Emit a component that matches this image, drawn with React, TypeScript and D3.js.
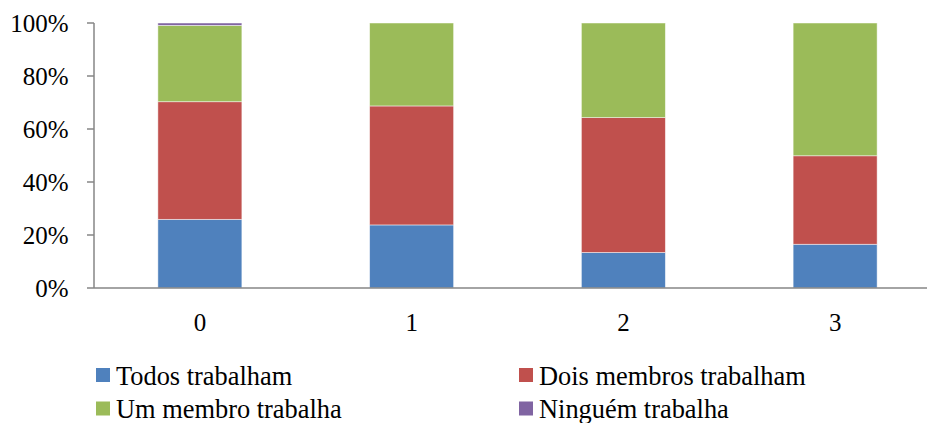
import React from "react";
import * as d3 from "d3";

const categories = ["0", "1", "2", "3"];
const seriesNames = ["Todos trabalham", "Dois membros trabalham", "Um membro trabalha", "Ninguém trabalha"];
const todos = [25.9, 23.8, 13.4, 16.5];
const dois = [44.4, 44.9, 50.9, 33.4];
const um = [28.8, 31.3, 35.7, 50.1];
const ninguem = [0.9, 0, 0, 0];
const yTicks = [0, 20, 40, 60, 80, 100];
const colors = ["#4F81BD", "#C0504D", "#9BBB59", "#8064A2"];

const FONT = "'Liberation Serif', 'Times New Roman', serif";

export default function App() {
  const W = 927, H = 423;
  const left = 94, top = 23, bottom = 288;
  const x = d3.scaleBand<string>().domain(categories).range([left, 941]).paddingInner(0.6).paddingOuter(0.3);
  const y = d3.scaleLinear().domain([0, 100]).range([bottom, top]);
  const rows = categories.map((c, i) => ({ cat: c, s0: todos[i], s1: dois[i], s2: um[i], s3: ninguem[i] }));
  const stack = d3.stack<any>().keys(["s0", "s1", "s2", "s3"]);
  const layers = stack(rows);
  const bw = 84;
  const legendItems = [
    { name: seriesNames[0], color: colors[0], x: 96, y: 384.5 },
    { name: seriesNames[1], color: colors[1], x: 519, y: 384.5 },
    { name: seriesNames[2], color: colors[2], x: 96, y: 418 },
    { name: seriesNames[3], color: colors[3], x: 519, y: 418 },
  ];
  return (
    <div style={{ fontFamily: FONT }}>
      <svg width={W} height={H} fontFamily={FONT} style={{ position: "absolute", left: 0, top: 0, background: "#fff" }}>
        {layers.map((layer, li) => (
          <g key={li} fill={colors[li]}>
            {layer.map((d, i) => {
              const cx = (x(categories[i]) as number) + x.bandwidth() / 2;
              const h = y(d[0]) - y(d[1]);
              if (h <= 0) return null;
              return (
                <rect key={i} x={cx - bw / 2} y={y(d[1])} width={bw} height={h}
                  stroke="#ffffff" strokeOpacity={0.6} strokeWidth={0.8} />
              );
            })}
          </g>
        ))}
        <line x1={left} x2={W} y1={bottom} y2={bottom} stroke="#868686" strokeWidth={1.5} />
        <line x1={left} x2={left} y1={top} y2={bottom} stroke="#868686" strokeWidth={1.5} />
        {yTicks.map((t) => (
          <g key={t}>
            <line x1={left - 7} x2={left} y1={y(t)} y2={y(t)} stroke="#868686" strokeWidth={1.5} />
            <text x={68.5} y={y(t) + 9} textAnchor="end" fontSize={25} fill="#000" fontFamily={FONT}>{t}%</text>
          </g>
        ))}
        {categories.map((c) => (
          <text key={c} x={(x(c) as number) + x.bandwidth() / 2} y={331} textAnchor="middle" fontSize={25} fill="#000" fontFamily={FONT}>{c}</text>
        ))}
        {legendItems.map((it) => (
          <g key={it.name}>
            <rect x={it.x} y={it.y - 16.5} width={14} height={14} fill={it.color} />
            <text x={it.x + 20} y={it.y} fontSize={26.4} fill="#000" fontFamily={FONT}>{it.name}</text>
          </g>
        ))}
      </svg>
    </div>
  );
}
